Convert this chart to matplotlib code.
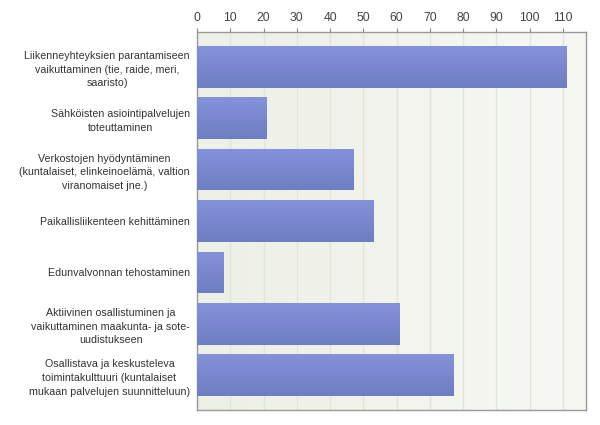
import matplotlib
matplotlib.use("Agg")
import matplotlib.pyplot as plt
import numpy as np
from matplotlib.colors import LinearSegmentedColormap

categories = [
    "Liikenneyhteyksien parantamiseen\nvaikuttaminen (tie, raide, meri,\nsaaristo)",
    "Sähköisten asiointipalvelujen\ntoteuttaminen",
    "Verkostojen hyödyntäminen\n(kuntalaiset, elinkeinoelämä, valtion\nviranomaiset jne.)",
    "Paikallisliikenteen kehittäminen",
    "Edunvalvonnan tehostaminen",
    "Aktiivinen osallistuminen ja\nvaikuttaminen maakunta- ja sote-\nuudistukseen",
    "Osallistava ja keskusteleva\ntoimintakulttuuri (kuntalaiset\nmukaan palvelujen suunnitteluun)",
]
values = [111, 21, 47, 53, 8, 61, 77]
ticks = list(range(0, 111, 10))

plt.rcParams['font.family'] = ['Liberation Sans', 'DejaVu Sans']

fig = plt.figure(figsize=(6.0, 4.25), dpi=100)
ax = fig.add_axes([197/600, 1 - 410/425, (586-197)/600, (410-32)/425])

xmax = 116.9
y = np.arange(len(values))
ax.set_xlim(0, xmax)
ax.set_ylim(len(values) - 1 + 0.675, -0.675)

# background gradient
bg = LinearSegmentedColormap.from_list("bg", ["#edf0e6", "#f7f8f4"])
ax.imshow(np.linspace(0, 1, 256).reshape(1, -1), cmap=bg, aspect='auto',
          extent=[0, xmax, len(values) - 1 + 0.675, -0.675], zorder=0)

for t in ticks[1:]:
    ax.axvline(t, color="#e2e4dc", lw=1, zorder=1)

bars = ax.barh(y, values, height=0.81, color="#7886cc", zorder=2)
barcm = LinearSegmentedColormap.from_list("bar", ["#8492da", "#6e7ec2"])
for b in bars:
    x0, y0 = b.get_x(), b.get_y()
    w, h = b.get_width(), b.get_height()
    im = ax.imshow(np.linspace(0, 1, 64).reshape(-1, 1), cmap=barcm, aspect='auto',
                   extent=[x0, x0 + w, y0 + h, y0], zorder=3)
    im.set_clip_path(b)
ax.set_xlim(0, xmax)
ax.set_ylim(len(values) - 1 + 0.675, -0.675)

ax.set_yticks(y)
ax.set_yticklabels(categories, fontsize=7.7, color="#333333",
                   multialignment='center', linespacing=1.45)
ax.tick_params(axis='y', length=0, pad=5)
ax.xaxis.tick_top()
ax.set_xticks(ticks)
ax.set_xticklabels([str(t) for t in ticks], fontsize=8.8, color="#444444")
ax.tick_params(axis='x', length=3, color="#888888", pad=3)
for s in ax.spines.values():
    s.set_color("#999999")
    s.set_linewidth(1)

fig.savefig("out.png", dpi=100)
